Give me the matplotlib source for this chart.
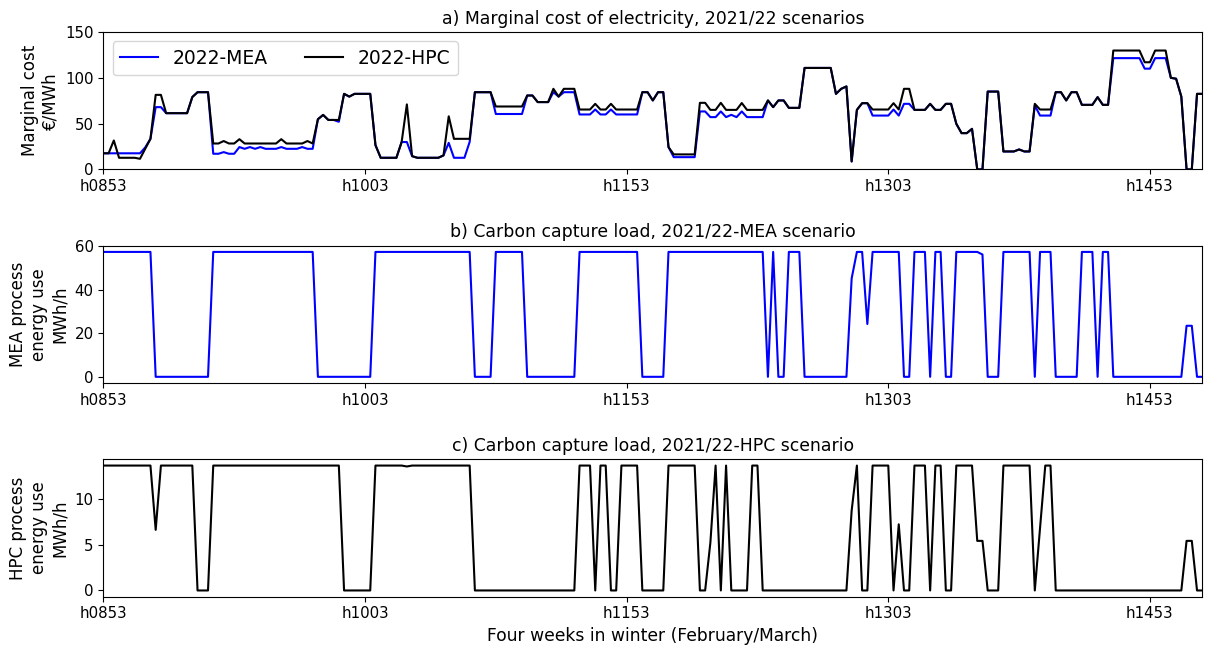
import matplotlib
matplotlib.use("Agg")
import matplotlib.pyplot as plt

# marginal cost of electricity (EUR/MWh), 3-hourly steps
cost_mea = ([17.6]*8 + [24, 33.4] + [68]*2 + [61.4]*5 + [79] + [84.3]*3
            + [17.1]*2 + [18.9] + [17.1]*2 + [24.4, 22.5, 24.4, 22.5, 24.4] + [22.5]*3
            + [24.4] + [22.5]*3 + [24.4] + [22.5]*2
            + [54.8, 59.5, 54, 54, 52, 82.5, 79.5] + [82.5]*4 + [26.5] + [12.7]*4
            + [29.9]*2 + [14.5] + [12.7]*5 + [15.3, 29] + [12.7]*3 + [30]
            + [84.3]*4 + [60.5]*6 + [80.7]*2 + [73.5]*3 + [84.3, 79.5] + [84.3]*3
            + [60]*3 + [65.4] + [60]*2 + [65.4] + [60]*5
            + [84.3]*2 + [75.3] + [84.3]*2 + [24.4] + [13.4]*5
            + [63.3]*2 + [57.1]*2 + [63.3, 57.1, 59.6, 57.1, 63.3] + [57.1]*4
            + [75.3, 68] + [75.3]*2 + [67.2]*3 + [110.8]*6
            + [82.5, 88, 90.6, 8.7, 65] + [72.3]*2 + [58.8]*4 + [65.4, 58.8] + [71.6]*2
            + [65]*3 + [71.6] + [65]*2 + [71.6]*2 + [49.8] + [39.6]*2 + [44.3] + [0]*2
            + [85]*3 + [19.6]*3 + [21.8] + [19.6]*2 + [69.8] + [58.8]*3
            + [84.3]*2 + [75.3] + [84.3]*2 + [70.5]*3 + [78.9] + [70.5]*2
            + [121.5]*6 + [110]*2 + [121.5]*3 + [100, 99, 79.5] + [0]*2 + [82.5]*2)

cost_hpc = ([17.6]*2 + [31.6] + [12.7]*4 + [11.6, 22.5, 33.4] + [81.4]*2 + [61.4]*5
            + [79] + [84.3]*3 + [28.3]*2 + [31] + [28.3]*2 + [33] + [28.3]*7 + [33]
            + [28.3]*4 + [31, 28.3, 54.8, 59.5] + [54]*3 + [82.5, 79.5] + [82.5]*4
            + [26.5] + [12.7]*4 + [29.9, 71, 14.5] + [12.7]*5 + [15.3, 58] + [33.4]*4
            + [84.3]*4 + [68.7]*6 + [80.7]*2 + [73.5]*3 + [88, 79.5] + [88]*3
            + [65.4]*3 + [71.6] + [65.4]*2 + [71.6] + [65.4]*5
            + [84.3]*2 + [75.3] + [84.3]*2 + [24.4] + [16.4]*5
            + [72.7]*2 + [65]*2 + [72.7] + [65]*3 + [72.5] + [65]*4
            + [75.3, 68] + [75.3]*2 + [67.2]*3 + [110.8]*6
            + [82.5, 88, 90.6, 8.7, 65] + [72.3]*2 + [65.4]*4 + [72.3, 65.4] + [88]*2
            + [65]*3 + [71.6] + [65]*2 + [71.6]*2 + [49.8] + [39.6]*2 + [44.3] + [0]*2
            + [85]*3 + [19.6]*3 + [21.8] + [19.6]*2 + [71.6] + [65.4]*3
            + [84.3]*2 + [75.3] + [84.3]*2 + [70.5]*3 + [78.9] + [70.5]*2
            + [129.8]*6 + [117]*2 + [129.8]*3 + [100, 99, 79.5] + [0]*2 + [82.5]*2)

# carbon capture process energy use (MWh/h)
load_mea = ([57.5]*10 + [0]*11 + [57.5]*20 + [0]*11 + [57.5]*19 + [0]*4 + [57.5]*6
            + [0]*10 + [57.5]*12 + [0]*5 + [57.5]*19 + [0] + [57.5] + [0]*2 + [57.5]*3
            + [0]*9 + [45.3] + [57.5]*2 + [24.3] + [57.5]*6 + [0]*2 + [57.5]*3 + [0]
            + [57.5]*2 + [0]*2 + [57.5]*5 + [56.3] + [0]*3 + [57.5]*6 + [0] + [57.5]*3
            + [0]*5 + [57.5]*3 + [0] + [57.5]*2 + [0]*14 + [23.5]*2 + [0]*2)

load_hpc = ([13.6]*10 + [6.6] + [13.6]*7 + [0]*3 + [13.6]*25 + [0]*6 + [13.6]*6
            + [13.5] + [13.6]*12 + [0]*20 + [13.6]*3 + [0] + [13.6]*2 + [0]*2
            + [13.6]*4 + [0]*5 + [13.6]*6 + [0]*2 + [5.2, 13.6, 0, 13.6] + [0]*4
            + [13.6]*2 + [0]*17 + [8.7, 13.6] + [0]*2 + [13.6]*4 + [0, 7.2] + [0]*2
            + [13.6]*3 + [0] + [13.6]*2 + [0]*2 + [13.6]*4 + [5.4]*2 + [0]*3
            + [13.6]*6 + [0, 6.8] + [13.6]*2 + [0]*25 + [5.4]*2 + [0]*2)

n = len(cost_hpc)
hours = ["h%04d" % (853 + 3 * i) for i in range(n)]
x = list(range(n))
tick_pos = x[::50]
tick_lab = hours[::50]

plt.rcParams['font.size'] = 10.8

fig, axs = plt.subplots(3, 1, figsize=(12.06, 6.51), dpi=100)
fig.subplots_adjust(left=0.0857, right=0.9969, top=0.9508, bottom=0.0834, hspace=0.555)

ax = axs[0]
ax.plot(x, cost_mea, color='blue', lw=1.5, label='2022-MEA')
ax.plot(x, cost_hpc, color='black', lw=1.5, label='2022-HPC')
ax.set_ylim(0, 150)
ax.set_yticks([0, 50, 100, 150])
ax.set_ylabel("Marginal cost\n€/MWh", fontsize=12)
ax.set_title("a) Marginal cost of electricity, 2021/22 scenarios", fontsize=12.4)
ax.legend(loc='upper left', ncol=2, fontsize=13.5)

ax = axs[1]
ax.plot(x, load_mea, color='blue', lw=1.5)
ax.set_yticks([0, 20, 40, 60])
ax.set_ylabel("MEA process\nenergy use\nMWh/h", fontsize=12)
ax.set_title("b) Carbon capture load, 2021/22-MEA scenario", fontsize=12.4)

ax = axs[2]
ax.plot(x, load_hpc, color='black', lw=1.5)
ax.set_yticks([0, 5, 10])
ax.set_ylabel("HPC process\nenergy use\nMWh/h", fontsize=12)
ax.set_title("c) Carbon capture load, 2021/22-HPC scenario", fontsize=12.4)
ax.set_xlabel("Four weeks in winter (February/March)", fontsize=12.3)

for ax in axs:
    ax.set_xlim(0, n - 1)
    ax.set_xticks(tick_pos)
    ax.set_xticklabels(tick_lab)

fig.savefig("out.png", dpi=100)
